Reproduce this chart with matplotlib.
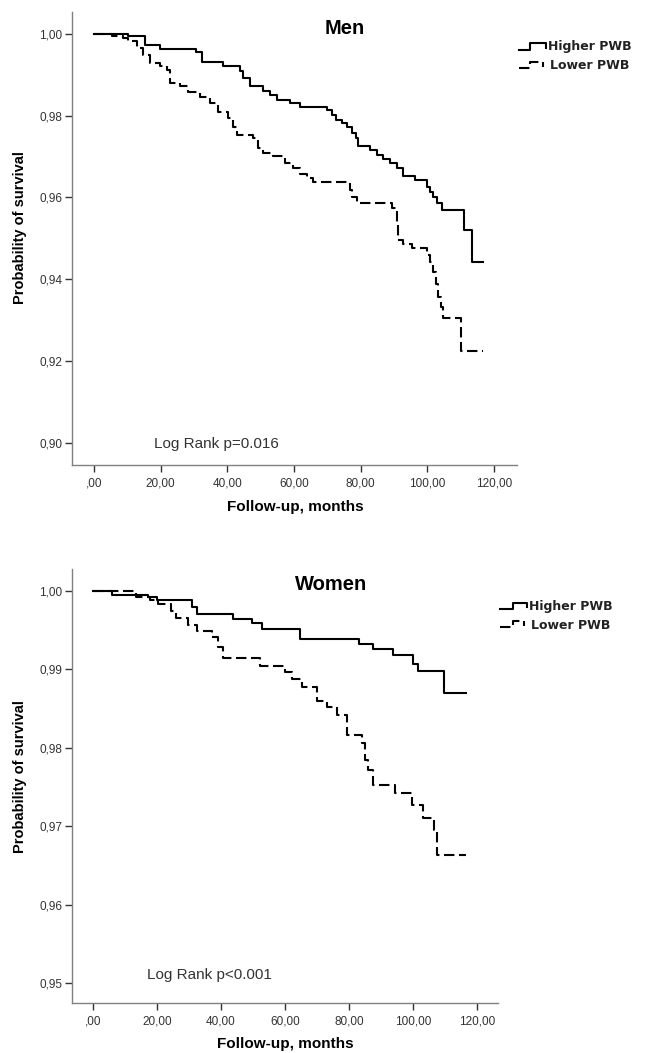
import matplotlib
matplotlib.use("Agg")
import matplotlib.pyplot as plt
from matplotlib.lines import Line2D

# ---------------- data ----------------
men_high_t = [0, 10.3, 15.3, 19.8, 30.6, 32.3, 38.8, 43.8, 44.8, 46.8, 50.7, 52.8, 54.8, 58.8, 61.8,
              69.9, 71.5, 72.5, 74.5, 76.0, 77.5, 78.5, 79.2, 82.8, 84.8, 86.8, 88.8, 90.8, 92.8,
              96.3, 99.8, 100.8, 101.8, 102.8, 104.3, 111.1, 113.3, 116.8]
men_high_s = [1.0, 0.9994, 0.9973, 0.99625, 0.9955, 0.9931, 0.9920, 0.99077, 0.98914, 0.9871, 0.9861,
              0.98506, 0.9838, 0.9830, 0.9822, 0.98138, 0.98015, 0.97893, 0.97812, 0.97729, 0.97567,
              0.97444, 0.97256, 0.97158, 0.97036, 0.9693, 0.96832, 0.9671, 0.96522, 0.9642, 0.96259,
              0.96137, 0.96014, 0.95852, 0.95688, 0.9520, 0.94423, 0.94423]

men_low_t = [0, 5.3, 8.8, 10.3, 12.8, 14.8, 16.8, 19.8, 21.8, 22.8, 25.8, 28.3, 31.8, 34.8, 37.3,
             40.3, 41.8, 42.8, 47.8, 49.3, 50.8, 53.8, 57.3, 59.8, 61.8, 63.8, 65.8, 76.8, 77.3,
             78.8, 89.3, 90.8, 91.3, 92.8, 95.3, 99.8, 100.8, 101.8, 102.6, 103.3, 104.0, 104.6,
             110.1, 116.8]
men_low_s = [1.0, 0.99944, 0.99894, 0.99812, 0.9965, 0.99486, 0.99282, 0.9920, 0.99118, 0.98792,
             0.9871, 0.98587, 0.98464, 0.98302, 0.98098, 0.97935, 0.97729, 0.97525, 0.97444,
             0.97199, 0.97077, 0.97011, 0.96832, 0.9671, 0.9657, 0.96465, 0.96382, 0.96178,
             0.96014, 0.95867, 0.9573, 0.95401, 0.94953, 0.94872, 0.94764, 0.94585, 0.94422,
             0.94177, 0.93892, 0.93563, 0.93319, 0.93042, 0.92241, 0.92241]

women_high_t = [0, 5.8, 17.3, 19.9, 30.8, 32.4, 43.8, 49.6, 52.7, 64.7, 83.2, 87.6, 93.8, 100.1,
                101.7, 109.7, 116.6]
women_high_s = [1.0, 0.99949, 0.9992, 0.99885, 0.9980, 0.99707, 0.99638, 0.99588, 0.99511, 0.99383,
                0.9932, 0.99256, 0.99183, 0.9907, 0.98979, 0.98702, 0.98702]

women_low_t = [0, 13.6, 17.8, 20.4, 24.5, 26.1, 29.8, 32.4, 37.1, 39.0, 40.7, 52.2, 60.0, 62.1, 65.2,
               69.9, 73.0, 76.2, 79.3, 84.1, 85.1, 86.1, 87.6, 94.4, 99.6, 103.2, 106.6, 107.6, 116.6]
women_low_s = [1.0, 0.99927, 0.99885, 0.99834, 0.9975, 0.99652, 0.99566, 0.99494, 0.99417, 0.9928,
               0.99141, 0.99047, 0.9897, 0.98873, 0.98779, 0.986, 0.98516, 0.98418, 0.9816, 0.98057,
               0.97844, 0.97716, 0.97529, 0.97419, 0.9727, 0.97104, 0.96951, 0.96632, 0.96632]

x_ticks = [0, 20, 40, 60, 80, 100, 120]
x_ticklabels = [",00", "20,00", "40,00", "60,00", "80,00", "100,00", "120,00"]
men_yticks = [0.90, 0.92, 0.94, 0.96, 0.98, 1.00]
men_yticklabels = ["0,90", "0,92", "0,94", "0,96", "0,98", "1,00"]
women_yticks = [0.95, 0.96, 0.97, 0.98, 0.99, 1.00]
women_yticklabels = ["0,95", "0,96", "0,97", "0,98", "0,99", "1,00"]
legend_labels = ["Higher PWB", "Lower PWB"]

# ---------------- layout ----------------
W, H = 646, 1053
fig = plt.figure(figsize=(W / 100, H / 100), dpi=100)
FONT = ["Liberation Sans", "DejaVu Sans"]
plt.rcParams["font.family"] = FONT

def fx(px):
    return px / W

def fy(py):
    return 1 - py / H

def axes_px(l, t, r, b):
    return fig.add_axes([fx(l), fy(b), (r - l) / W, (b - t) / H])

DASH = (0, (5, 2.2))
LW = 1.5

def style(ax, yticks, yticklabels, xlim, ylim):
    ax.set_xlim(*xlim)
    ax.set_ylim(*ylim)
    for s in ["top", "right"]:
        ax.spines[s].set_visible(False)
    for s in ["left", "bottom"]:
        ax.spines[s].set_color("#808080")
        ax.spines[s].set_linewidth(1.0)
    ax.set_xticks(x_ticks)
    ax.set_xticklabels(x_ticklabels)
    ax.set_yticks(yticks)
    ax.set_yticklabels(yticklabels)
    ax.tick_params(axis="both", direction="out", length=5, width=1.0, color="#333333",
                   labelsize=8.5, labelcolor="#333333", pad=2)
    ax.tick_params(axis="x", pad=4)

def legend(x0, x1, xm, y_low1, y_high1, y_low2, y_high2, tx, ty1, ty2):
    # solid glyph
    fig.add_artist(Line2D([fx(x0), fx(xm), fx(xm), fx(x1), fx(x1)],
                          [fy(y_low1), fy(y_low1), fy(y_high1), fy(y_high1), fy(y_low1 - 2)],
                          transform=fig.transFigure, color="black", lw=LW))
    fig.add_artist(Line2D([fx(x0), fx(xm), fx(xm), fx(x1 - 3), fx(x1 - 3)],
                          [fy(y_low2), fy(y_low2), fy(y_high2), fy(y_high2), fy(y_low2 - 1)],
                          transform=fig.transFigure, color="black", lw=LW, linestyle=DASH))
    fig.text(fx(tx), fy(ty1), legend_labels[0], fontsize=9, fontweight="bold",
             family=["DejaVu Sans"], va="center", ha="left", color="#222222")
    fig.text(fx(tx + 2), fy(ty2), legend_labels[1], fontsize=9, fontweight="bold",
             family=["DejaVu Sans"], va="center", ha="left", color="#222222")

# ---- Men ----
ax1 = axes_px(72, 12, 517, 465)
ax1.step(men_high_t, men_high_s, where="post", color="black", lw=LW)
ax1.step(men_low_t, men_low_s, where="post", color="black", lw=LW, linestyle=DASH)
style(ax1, men_yticks, men_yticklabels, (-6.6, 126.9), (0.8946, 1.0053))
fig.text(fx(345), fy(28), "Men", fontsize=14.5, fontweight="bold", ha="center", va="center")
fig.text(fx(154), fy(444), "Log Rank p=0.016", fontsize=11, ha="left", va="center", color="#333333")
fig.text(fx(295), fy(507), "Follow-up, months", fontsize=11, fontweight="bold", ha="center", va="center")
fig.text(fx(20), fy(227.5), "Probability of survival", fontsize=10.5, fontweight="bold",
         rotation=90, ha="center", va="center")
legend(519, 546, 529.5, 50, 43.3, 67.7, 61.7, 548, 46.7, 65.7)

# ---- Women ----
ax2 = axes_px(72, 569, 498, 1003)
ax2.step(women_high_t, women_high_s, where="post", color="black", lw=LW)
ax2.step(women_low_t, women_low_s, where="post", color="black", lw=LW, linestyle=DASH)
style(ax2, women_yticks, women_yticklabels, (-6.56, 126.6), (0.94745, 1.0028))
fig.text(fx(331.5), fy(584), "Women", fontsize=14.5, fontweight="bold", ha="center", va="center")
fig.text(fx(147), fy(975), "Log Rank p<0.001", fontsize=11, ha="left", va="center", color="#333333")
fig.text(fx(285), fy(1044), "Follow-up, months", fontsize=11, fontweight="bold", ha="center", va="center")
fig.text(fx(20), fy(777), "Probability of survival", fontsize=10.5, fontweight="bold",
         rotation=90, ha="center", va="center")
legend(500, 527, 513, 609.3, 602.7, 627.3, 620.7, 529, 606.5, 625.5)

fig.savefig("out.png", dpi=100, facecolor="white")
